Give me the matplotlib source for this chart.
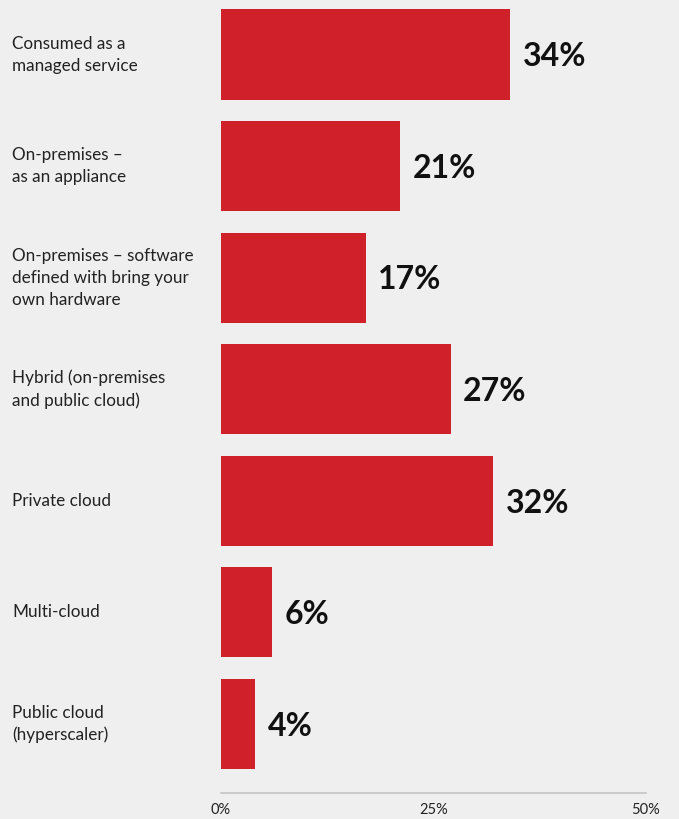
import matplotlib.pyplot as plt
import matplotlib.transforms as mtrans

# --------------------------------------------------------------
# Data
# --------------------------------------------------------------
categories = [
    "Consumed as a\nmanaged service",
    "On-premises –\nas an appliance",
    "On-premises – software\ndefined with bring your\nown hardware",
    "Hybrid (on-premises\nand public cloud)",
    "Private cloud",
    "Multi-cloud",
    "Public cloud\n(hyperscaler)",
]
values = [34, 21, 17, 27, 32, 6, 4]
xticks = [0, 25, 50]

bg = "#efefef"
red = "#d0202a"

# --------------------------------------------------------------
# Plot
# --------------------------------------------------------------
fig = plt.figure(figsize=(6.79, 8.19), dpi=100, facecolor=bg)
ax = fig.add_axes([221 / 679, 1 - 793 / 819, (646 - 221) / 679, 793 / 819])
ax.set_facecolor(bg)

pos = list(range(len(values)))
ax.barh(pos, values, height=0.81, color=red)

for y, v in zip(pos, values):
    ax.text(v + 1.5, y + 0.02, f"{v}%", va="center", ha="left",
            fontsize=23, fontweight="bold", family="Lato", color="#111111")

label_trans = mtrans.blended_transform_factory(fig.transFigure, ax.transData)
for y, c in zip(pos, categories):
    ax.text(12 / 679, y, c, transform=label_trans,
            va="center", ha="left", fontsize=12.3, family="Lato",
            color="#222222", linespacing=1.45)

ax.set_xlim(0, 50)
ax.set_ylim(6.62, -0.49)
ax.set_xticks(xticks)
ax.set_xticklabels([f"{t}%" for t in xticks], family="Lato", fontsize=10.5, color="#222222")
ax.tick_params(axis="x", length=0, pad=7)
ax.set_yticks([])

for s in ["top", "right", "left"]:
    ax.spines[s].set_visible(False)
ax.spines["bottom"].set_color("#c4c4c4")
ax.spines["bottom"].set_linewidth(1.2)

plt.savefig("out.png", dpi=100, facecolor=bg)
